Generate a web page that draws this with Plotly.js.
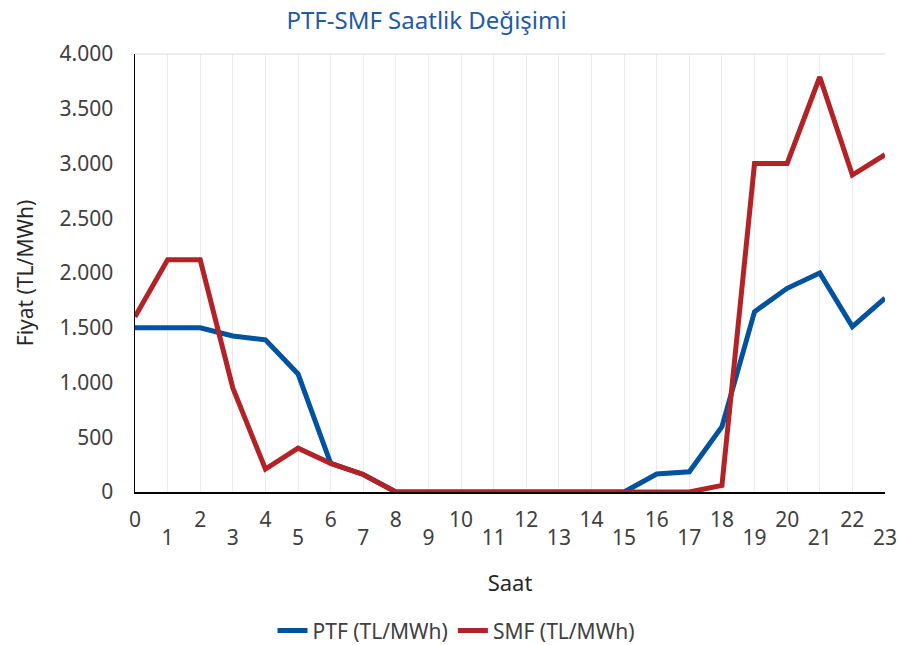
<!DOCTYPE html>
<html>
<head>
<meta charset="utf-8">
<script src="https://cdn.plot.ly/plotly-3.0.1.min.js"></script>
<style>html,body{margin:0;padding:0;background:#fff;}#chart{width:898px;height:645px;}</style>
</head>
<body>
<div id="chart"></div>
<script>
const hours = [0,1,2,3,4,5,6,7,8,9,10,11,12,13,14,15,16,17,18,19,20,21,22,23];
const ptf = [1500,1500,1500,1425,1390,1078,262,160,0,0,0,0,0,0,0,0,164,185,596,1647,1860,2000,1510,1770];
const smf = [1600,2120,2120,950,210,400,262,160,0,0,0,0,0,0,0,0,0,0,60,3000,3000,3790,2895,3080];
const evenTicks = [0,2,4,6,8,10,12,14,16,18,20,22];
const oddTicks = [1,3,5,7,9,11,13,15,17,19,21,23];
const yTicks = [0,500,1000,1500,2000,2500,3000,3500,4000];
const seriesNames = ['PTF (TL/MWh)','SMF (TL/MWh)'];

const FONT = 'Noto Sans, Open Sans, sans-serif';
const traces = [
  {x: hours, y: ptf, name: seriesNames[0], type: 'scatter', mode: 'lines',
   line: {color: '#0153A0', width: 5}},
  {x: hours, y: smf, name: seriesNames[1], type: 'scatter', mode: 'lines',
   line: {color: '#B22226', width: 5}}
];

const layout = {
  width: 898, height: 645,
  margin: {l: 135, r: 13, t: 54, b: 153, autoexpand: false},
  paper_bgcolor: '#fff', plot_bgcolor: '#fff',
  separators: ',.',
  font: {family: FONT, size: 21, color: '#404040'},
  title: {text: 'PTF-SMF Saatlik Değişimi', font: {family: FONT, size: 24, color: '#1F5AA5'},
          x: 0.475, xanchor: 'center', y: 0.968, yanchor: 'middle', automargin: false},
  xaxis: {range: [0, 23.001], tickvals: evenTicks, ticktext: evenTicks.map(String),
          showgrid: false, zeroline: false, showline: true, linecolor: '#000', linewidth: 1.5,
          ticks: '', ticklabelstandoff: 8, tickfont: {size: 21, color: '#404040'},
          ticklabeloverflow: 'allow', automargin: false},
  xaxis2: {range: [0, 23.001], overlaying: 'x', side: 'bottom', anchor: 'y',
           tickvals: oddTicks, ticktext: oddTicks.map(String),
           showgrid: false, zeroline: false, showline: false,
           ticks: '', ticklabelstandoff: 31, tickfont: {size: 21, color: '#404040'},
           ticklabeloverflow: 'allow', automargin: false,
           title: {text: 'Saat', font: {size: 22, color: '#262626'}, standoff: 25}},
  xaxis3: {range: [0, 23.001], overlaying: 'x', side: 'bottom', anchor: 'y',
           tickvals: hours, showticklabels: false,
           showgrid: true, gridcolor: '#EBEBEB', gridwidth: 1, zeroline: false, showline: false,
           ticks: '', automargin: false},
  yaxis: {range: [0, 4000], tickvals: yTicks, separatethousands: true, tickformat: ',d',
          showgrid: false, zeroline: false, showline: true, linecolor: '#000', linewidth: 1.5,
          ticks: '', ticklabelstandoff: 16, tickfont: {size: 21, color: '#404040'},
          automargin: false,
          title: {text: 'Fiyat (TL/MWh)', font: {size: 21, color: '#262626'}, standoff: 20}},
  shapes: [{type: 'line', xref: 'paper', yref: 'paper', x0: 0, x1: 1, y0: 1, y1: 1,
            line: {color: '#E6E6E6', width: 1.5}, layer: 'below'}],
  showlegend: true,
  legend: {orientation: 'h', x: 0.428, xanchor: 'center', y: -0.317, yanchor: 'middle',
           font: {size: 21, color: '#404040'}, bgcolor: 'rgba(0,0,0,0)'}
};

// empty traces so the label-only axes are drawn
traces.unshift({x: [0], y: [null], xaxis: 'x3', yaxis: 'y', showlegend: false, hoverinfo: 'skip', mode: 'lines'});
traces.push({x: [0], y: [null], xaxis: 'x2', yaxis: 'y', showlegend: false, hoverinfo: 'skip', mode: 'lines'});

Plotly.newPlot('chart', traces, layout, {displayModeBar: false, staticPlot: true});
</script>
</body>
</html>
